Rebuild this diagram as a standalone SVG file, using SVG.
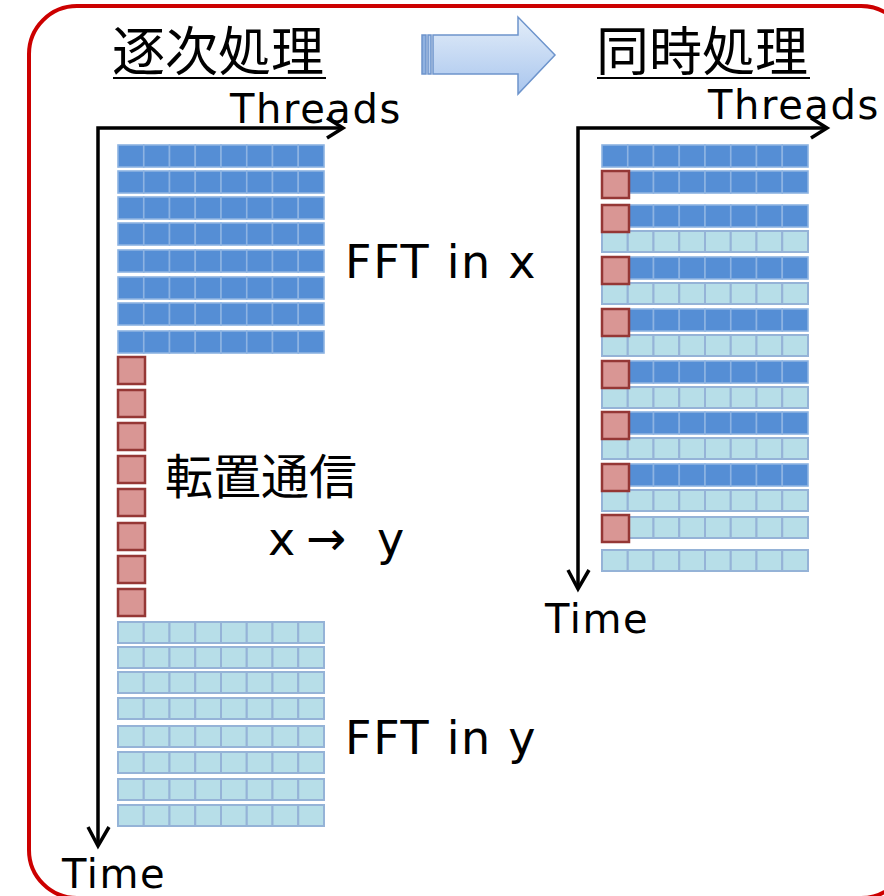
<svg xmlns="http://www.w3.org/2000/svg" xmlns:xlink="http://www.w3.org/1999/xlink" width="884" height="896" viewBox="0 0 884 896">
<style>
.lat{font-family:"DejaVu Sans","Liberation Sans",sans-serif;fill:#000}
.cjk{font-family:"Noto Sans CJK JP","Noto Sans CJK SC",sans-serif;fill:#000}
.axis{fill:none;stroke:#000;stroke-width:3.5;stroke-linejoin:miter}
.d{fill:#558ed5;stroke:#8db3e2;stroke-width:1.6}
.l{fill:#b7dee8;stroke:#95b3d7;stroke-width:2}
.r{fill:#d99694;stroke:#953735;stroke-width:2.5}
.ul{stroke:#000;stroke-width:2}
</style>
<defs>
<linearGradient id="ag" x1="0" y1="0" x2="0" y2="1">
<stop offset="0" stop-color="#e3edf9"/>
<stop offset="1" stop-color="#a9c6ee"/>
</linearGradient>
<g id="rowD">
<rect class="d" x="0" y="0" width="25.75" height="22"/>
<rect class="d" x="25.75" y="0" width="25.75" height="22"/>
<rect class="d" x="51.5" y="0" width="25.75" height="22"/>
<rect class="d" x="77.25" y="0" width="25.75" height="22"/>
<rect class="d" x="103" y="0" width="25.75" height="22"/>
<rect class="d" x="128.75" y="0" width="25.75" height="22"/>
<rect class="d" x="154.5" y="0" width="25.75" height="22"/>
<rect class="d" x="180.25" y="0" width="25.75" height="22"/>
</g>
<g id="rowL">
<rect class="l" x="0" y="0" width="25.75" height="21"/>
<rect class="l" x="25.75" y="0" width="25.75" height="21"/>
<rect class="l" x="51.5" y="0" width="25.75" height="21"/>
<rect class="l" x="77.25" y="0" width="25.75" height="21"/>
<rect class="l" x="103" y="0" width="25.75" height="21"/>
<rect class="l" x="128.75" y="0" width="25.75" height="21"/>
<rect class="l" x="154.5" y="0" width="25.75" height="21"/>
<rect class="l" x="180.25" y="0" width="25.75" height="21"/>
</g>
<rect id="sq" class="r" x="0" y="0" width="27" height="27"/>
</defs>

<rect id="frame" x="29" y="6" width="880" height="892" rx="48" ry="48" fill="#fff" stroke="#cc0000" stroke-width="4"/>

<g id="title-left">
<text class="cjk" x="112" y="71" font-size="53">逐次処理</text>
<line class="ul" x1="113" y1="78" x2="326" y2="78"/>
</g>
<g id="title-right">
<text class="cjk" x="596" y="71" font-size="53">同時処理</text>
<line class="ul" x1="597" y1="78" x2="810" y2="78"/>
</g>

<g id="big-arrow" stroke="#6d94cc" stroke-width="1.5">
<rect x="422" y="35" width="4" height="39" fill="#8fb1e0"/>
<rect x="428" y="35" width="3" height="39" fill="#b6cdee"/>
<polygon points="433,35 518,35 518,17 555,55 518,94 518,74 433,74" fill="url(#ag)"/>
</g>

<g id="connectors">
<path class="axis" d="M98,846 V128 H343"/>
<path class="axis" d="M327,118 L343,128 L327,138"/>
<path class="axis" d="M88,827 L98,846 L109,827"/>
<path class="axis" d="M578,589 V128 H827"/>
<path class="axis" d="M811,118 L827,128 L811,138"/>
<path class="axis" d="M568,570 L578,589 L589,570"/>
</g>

<g id="axis-labels">
<text class="lat" x="230" y="123" font-size="40" letter-spacing="1.6">Threads</text>
<text class="lat" x="708" y="119" font-size="40" letter-spacing="1.6">Threads</text>
<text class="lat" x="62" y="888" font-size="40" letter-spacing="1.6">Time</text>
<text class="lat" x="545" y="633" font-size="40" letter-spacing="1.6">Time</text>
</g>

<g id="seq-fftx">
<use xlink:href="#rowD" x="118" y="145"/>
<use xlink:href="#rowD" x="118" y="171"/>
<use xlink:href="#rowD" x="118" y="197"/>
<use xlink:href="#rowD" x="118" y="223"/>
<use xlink:href="#rowD" x="118" y="250"/>
<use xlink:href="#rowD" x="118" y="277"/>
<use xlink:href="#rowD" x="118" y="303"/>
<use xlink:href="#rowD" x="118" y="331"/>
<text class="lat" x="345" y="278" font-size="46" letter-spacing="1.7">FFT in x</text>
</g>

<g id="seq-transpose">
<use xlink:href="#sq" x="118" y="357"/>
<use xlink:href="#sq" x="118" y="390"/>
<use xlink:href="#sq" x="118" y="423"/>
<use xlink:href="#sq" x="118" y="456"/>
<use xlink:href="#sq" x="118" y="489"/>
<use xlink:href="#sq" x="118" y="523"/>
<use xlink:href="#sq" x="118" y="556"/>
<use xlink:href="#sq" x="118" y="589"/>
<text class="cjk" x="165" y="494" font-size="48">転置通信</text>
<text class="lat" y="555" font-size="46"><tspan x="268">x</tspan><tspan x="306" font-size="48">→</tspan><tspan x="377">y</tspan></text>
</g>

<g id="seq-ffty">
<use xlink:href="#rowL" x="118" y="622"/>
<use xlink:href="#rowL" x="118" y="647"/>
<use xlink:href="#rowL" x="118" y="672"/>
<use xlink:href="#rowL" x="118" y="698"/>
<use xlink:href="#rowL" x="118" y="726"/>
<use xlink:href="#rowL" x="118" y="752"/>
<use xlink:href="#rowL" x="118" y="779"/>
<use xlink:href="#rowL" x="118" y="805"/>
<text class="lat" x="345" y="754" font-size="46" letter-spacing="1.7">FFT in y</text>
</g>

<g id="overlap">
<use xlink:href="#rowD" x="602" y="145"/>
<use xlink:href="#rowD" x="602" y="171"/>
<use xlink:href="#sq" x="602" y="171"/>
<use xlink:href="#rowD" x="602" y="205"/>
<use xlink:href="#rowL" x="602" y="231"/>
<use xlink:href="#sq" x="602" y="205"/>
<use xlink:href="#rowD" x="602" y="257"/>
<use xlink:href="#rowL" x="602" y="283"/>
<use xlink:href="#sq" x="602" y="257"/>
<use xlink:href="#rowD" x="602" y="309"/>
<use xlink:href="#rowL" x="602" y="335"/>
<use xlink:href="#sq" x="602" y="309"/>
<use xlink:href="#rowD" x="602" y="361"/>
<use xlink:href="#rowL" x="602" y="387"/>
<use xlink:href="#sq" x="602" y="361"/>
<use xlink:href="#rowD" x="602" y="412"/>
<use xlink:href="#rowL" x="602" y="438"/>
<use xlink:href="#sq" x="602" y="412"/>
<use xlink:href="#rowD" x="602" y="464"/>
<use xlink:href="#rowL" x="602" y="490"/>
<use xlink:href="#sq" x="602" y="464"/>
<use xlink:href="#rowL" x="602" y="517"/>
<use xlink:href="#sq" x="602" y="515"/>
<use xlink:href="#rowL" x="602" y="550"/>
</g>
</svg>
